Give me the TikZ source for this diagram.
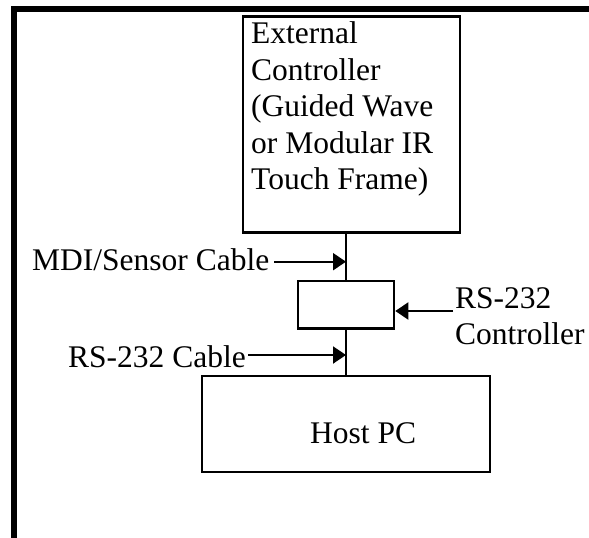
\documentclass[tikz,border=0pt]{standalone}
\usepackage{fontspec}
\setmainfont{Liberation Serif}
\usetikzlibrary{arrows.meta}
\begin{document}
\begin{tikzpicture}[x=1pt,y=-1pt,
 box/.style={draw,line width=2.6pt,inner sep=0pt,rectangle},
 lbl/.style={inner sep=0pt,font=\fontsize{31.5}{36.5}\selectfont},
 wire/.style={line width=2pt},
 arr/.style={line width=2pt,-{Triangle[length=13pt,width=17pt]}},
 frameline/.style={line width=5.6pt,line join=miter}]
\useasboundingbox (0,0) rectangle (589,538);
\draw[frameline] (13.8,540) -- (13.8,8.8) -- (592,8.8);
% boxes
\node[box,minimum width=217pt,minimum height=216pt] (ext) at (351.5,124.5) {};
\node[box,minimum width=96pt,minimum height=47.5pt] (ctl) at (346,304.75) {};
\node[box,minimum width=288pt,minimum height=96pt] (host) at (346,424) {};
% box texts
\node[lbl,anchor=north west,align=left] (exttxt) at (251,21.5) {External\\Controller\\(Guided Wave\\or Modular IR\\Touch Frame)};
\node[lbl,anchor=base west] (hosttxt) at (310,443) {Host PC};
% wires
\draw[wire] (ext.south -| ctl.north) -- (ctl.north);
\draw[wire] (ctl.south) -- (host.north);
% labels
\node[lbl,anchor=base west] (mdi) at (32,270) {MDI/Sensor Cable};
\node[lbl,anchor=base west] (rsc) at (68,367) {RS-232 Cable};
\node[lbl,anchor=north west,align=left] (rsctl) at (455,287) {RS-232\\Controller};
% arrows
\coordinate (mdiA) at (274,261.7);
\coordinate (mdiB) at (346,261.7);
\coordinate (rscA) at (248,355);
\coordinate (rscB) at (346,355);
\coordinate (ctlA) at (453,311);
\coordinate (ctlB) at (395.3,311);
\draw[arr] (mdiA) -- (mdiB);
\draw[arr] (rscA) -- (rscB);
\draw[arr] (ctlA) -- (ctlB);
\end{tikzpicture}
\end{document}
